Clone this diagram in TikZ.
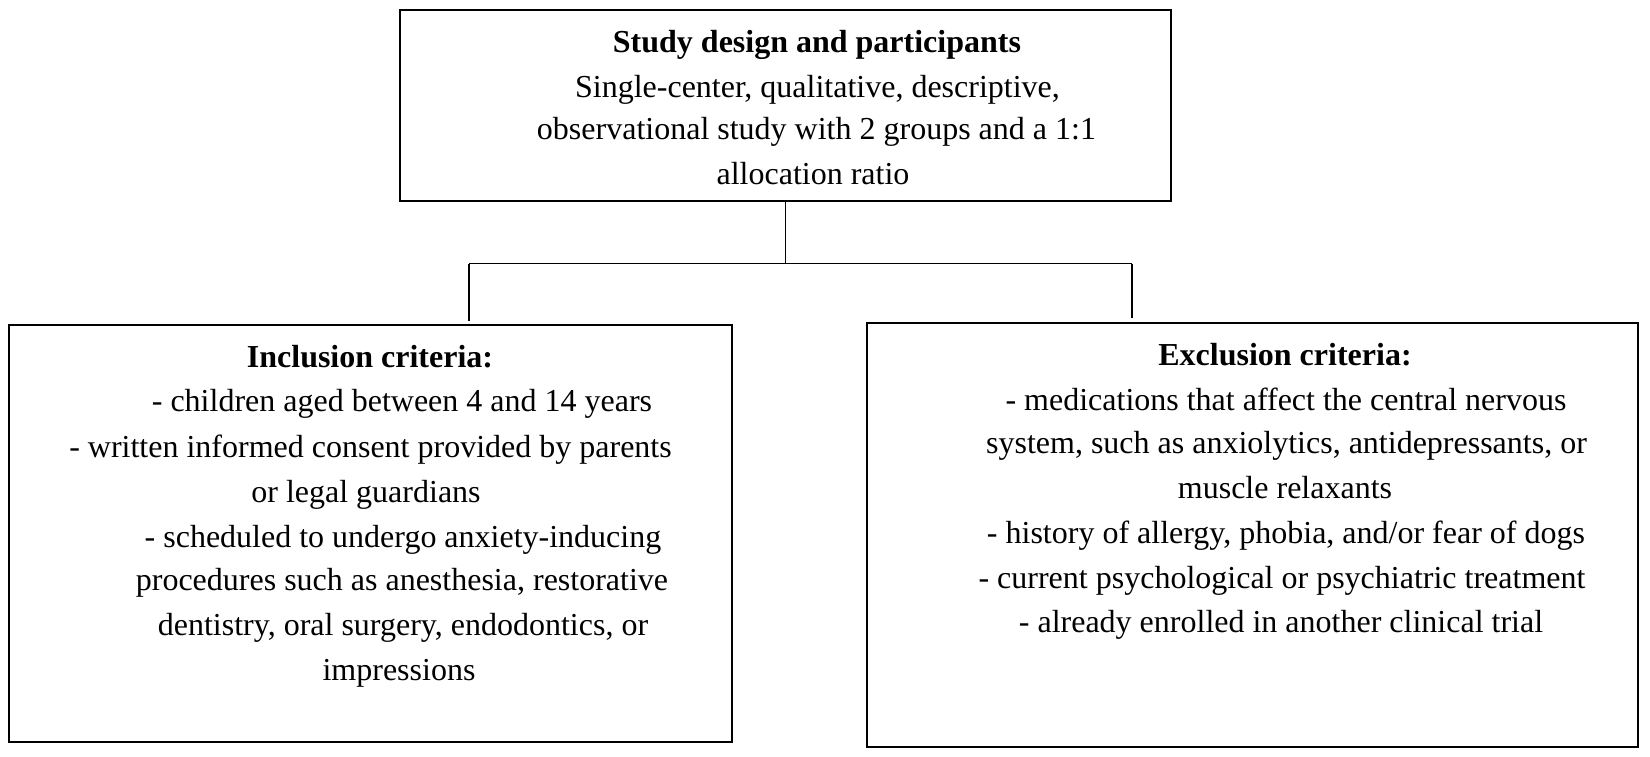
\documentclass[tikz,border=0pt]{standalone}
\usepackage{fontspec}
\setmainfont{Liberation Serif}
\begin{document}
\begin{tikzpicture}[x=1pt,y=-1pt,
  box/.style={draw=black, line width=2pt, inner sep=0pt, fill=none},
  conn/.style={draw=black, line width=1.3pt},
  ln/.style={anchor=base, inner sep=0pt, font=\fontsize{32}{44}\selectfont},
  hd/.style={ln, font=\fontsize{32}{44}\selectfont\bfseries}]
\useasboundingbox[fill=white] (0,0) rectangle (1650,756);
% boxes
\node[box, minimum width=771pt, minimum height=191pt] (top) at (785.5,105.5) {};
\node[box, minimum width=723pt, minimum height=417pt] (inc) at (370.5,533.5) {};
\node[box, minimum width=771pt, minimum height=424pt] (exc) at (1252.5,535) {};
% top text
\node[hd] (t1) at (817,52) {Study design and participants};
\node[ln] (t2) at (817.5,97) {Single-center, qualitative, descriptive,};
\node[ln] (t3) at (816.5,139) {observational study with 2 groups and a 1:1};
\node[ln] (t4) at (813,184) {allocation ratio};
% inclusion text
\node[hd] (i1) at (370,367) {Inclusion criteria:};
\node[ln] (i2) at (402,411) {- children aged between 4 and 14 years};
\node[ln] (i3) at (370.5,457) {- written informed consent provided by parents};
\node[ln] (i4) at (366,502) {or legal guardians};
\node[ln] (i5) at (403,547) {- scheduled to undergo anxiety-inducing};
\node[ln] (i6) at (402,590) {procedures such as anesthesia, restorative};
\node[ln] (i7) at (403,635) {dentistry, oral surgery, endodontics, or};
\node[ln] (i8) at (399,680) {impressions};
% exclusion text
\node[hd] (e1) at (1285,365) {Exclusion criteria:};
\node[ln] (e2) at (1286,410) {- medications that affect the central nervous};
\node[ln] (e3) at (1286.5,453) {system, such as anxiolytics, antidepressants, or};
\node[ln] (e4) at (1285,498) {muscle relaxants};
\node[ln] (e5) at (1286,543) {- history of allergy, phobia, and/or fear of dogs};
\node[ln] (e6) at (1282,588) {- current psychological or psychiatric treatment};
\node[ln] (e7) at (1281,632) {- already enrolled in another clinical trial};
% connectors
\coordinate (jl) at (469,263.5);
\coordinate (jr) at (1132,263.5);
\coordinate (jm) at (785.5,263.5);
\draw[conn] (top.south) -- (jm);
\draw[conn] (jl) -- (jr);
\draw[conn, shorten >=3pt] (jl) -- (jl |- inc.north);
\draw[conn, shorten >=4pt] (jr) -- (jr |- exc.north);
\end{tikzpicture}
\end{document}
